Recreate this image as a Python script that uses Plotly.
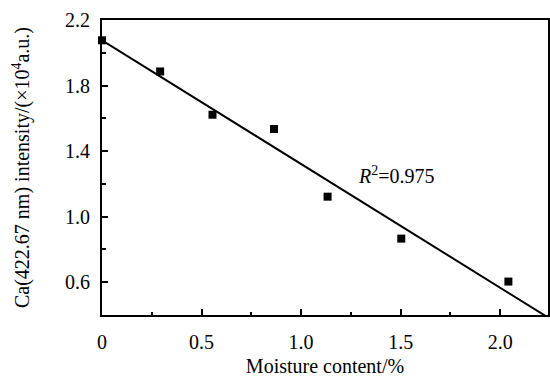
import numpy as np
import plotly.graph_objects as go

moisture = [0.0, 0.292, 0.555, 0.864, 1.133, 1.503, 2.041]
intensity = [2.076, 1.886, 1.622, 1.535, 1.122, 0.866, 0.604]
x_ticks = [0, 0.5, 1.0, 1.5, 2.0]
x_tick_text = ["0", "0.5", "1.0", "1.5", "2.0"]
y_ticks = [0.6, 1.0, 1.4, 1.8, 2.2]
y_tick_text = ["0.6", "1.0", "1.4", "1.8", "2.2"]
r2_text = "<i>R</i><sup>2</sup>=0.975"

slope, intercept = np.polyfit(moisture, intensity, 1)
fit_x = np.array([0.0, 2.3])
fit_y = slope * fit_x + intercept

font = dict(family="Liberation Serif", size=20, color="black")

fig = go.Figure()
fig.add_trace(go.Scatter(x=fit_x, y=fit_y, mode="lines",
                         line=dict(color="black", width=2), showlegend=False))
fig.add_trace(go.Scatter(x=moisture, y=intensity, mode="markers",
                         marker=dict(symbol="square", size=8, color="black"),
                         showlegend=False, cliponaxis=False))

fig.add_annotation(x=1.48, y=1.257, text=r2_text, showarrow=False,
                   font=font, xanchor="center", yanchor="middle")

axis_common = dict(showline=True, linecolor="black", linewidth=2, mirror=True,
                   ticks="inside", ticklen=6, tickwidth=1.5, tickcolor="black",
                   showgrid=False, zeroline=False, tickfont=font, automargin=False)

fig.update_xaxes(range=[0, 2.24], tickvals=x_ticks, ticktext=x_tick_text,
                 ticklabelstandoff=8,
                 minor=dict(ticks="inside", ticklen=3.5, tickwidth=1.5, tickcolor="black",
                            dtick=0.25, tick0=0, showgrid=False),
                 title=dict(text="Moisture content/%", font=font, standoff=10),
                 **axis_common)
fig.update_yaxes(range=[0.4, 2.2], tickvals=y_ticks, ticktext=y_tick_text,
                 ticklabelstandoff=6,
                 minor=dict(ticks="inside", ticklen=3.5, tickwidth=1.5, tickcolor="black",
                            dtick=0.2, tick0=0.4, showgrid=False),
                 title=dict(text="Ca(422.67 nm) intensity/(×10<sup>4</sup>a.u.)", font=font, standoff=30),
                 **axis_common)

fig.update_layout(width=550, height=377, margin=dict(l=102, r=2, t=20, b=62),
                  plot_bgcolor="white", paper_bgcolor="white", font=font)

fig.write_html("out.html")
